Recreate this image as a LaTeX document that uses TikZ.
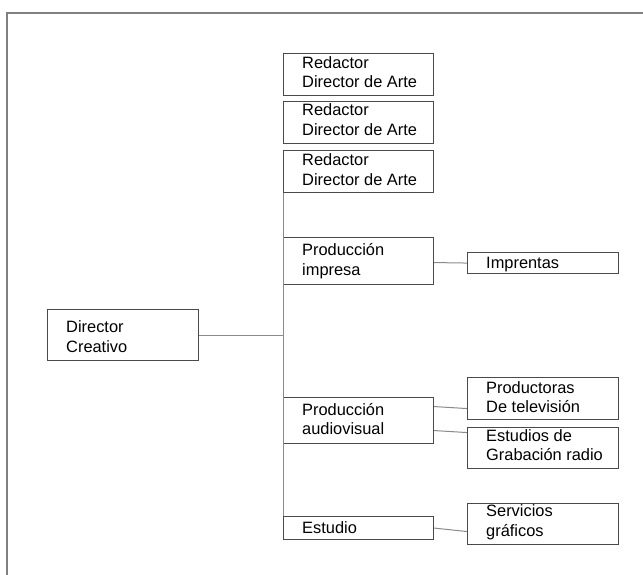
\documentclass[tikz,border=0pt]{standalone}
\usepackage{fontspec}
\setmainfont{Liberation Sans}
\definecolor{boxgray}{HTML}{4A4A4A}
\definecolor{linkgray}{HTML}{8A8A8A}
\definecolor{framegray}{HTML}{808080}
\begin{document}
\begin{tikzpicture}[x=1pt,y=-1pt,
  box/.style={draw=boxgray, line width=1.1pt, inner sep=0pt, anchor=north west},
  % text nodes are anchored at the baseline of their last line
  txt/.style={inner sep=0pt, anchor=base west, align=left,
              font=\fontsize{16.4}{19.2}\selectfont},
  link/.style={draw=linkgray, line width=1pt},
  frame/.style={draw=framegray, line width=2pt}]
\useasboundingbox (0,0) rectangle (643,574);

% outer frame
\draw[frame] (7,575) -- (7,12.5) -- (644,12.5);

% left box
\node[box, minimum width=151, minimum height=51] (dc) at (47,309) {};
\node[txt] (dct) at (66,352) {Director\\Creativo};

% middle column
\node[box, minimum width=150, minimum height=42] (r1) at (283,53) {};
\node[txt] (r1t) at (302,87.5) {Redactor\\Director de Arte};
\node[box, minimum width=150, minimum height=42] (r2) at (283,101) {};
\node[txt] (r2t) at (302,135) {Redactor\\Director de Arte};
\node[box, minimum width=150, minimum height=42] (r3) at (283,150) {};
\node[txt] (r3t) at (302,185) {Redactor\\Director de Arte};
\node[box, minimum width=150, minimum height=47] (pi) at (283,237) {};
\node[txt] (pit) at (302,275) {Producción\\impresa};
\node[box, minimum width=150, minimum height=46] (av) at (283,397) {};
\node[txt] (avt) at (302,434.5) {Producción\\audiovisual};
\node[box, minimum width=150, minimum height=23] (est) at (283,516) {};
\node[txt] (estt) at (302,533) {Estudio};

% right column
\node[box, minimum width=151, minimum height=21] (im) at (467,252) {};
\node[txt] (imt) at (486,268) {Imprentas};
\node[box, minimum width=151, minimum height=42] (pt) at (467,377) {};
\node[txt] (ptt) at (486,412.5) {Productoras\\De televisión};
\node[box, minimum width=151, minimum height=41] (eg) at (467,427) {};
\node[txt] (egt) at (486,460.5) {Estudios de\\Grabación radio};
\node[box, minimum width=151, minimum height=41] (sg) at (467,503) {};
\node[txt] (sgt) at (486,536) {Servicios\\gráficos};

% trunk and branches
\draw[link] (r3.south west) -- (est.north west);
\draw[link] (dc.east) -- (dc.east -| r3.south west);
\draw[link] ([yshift=-1.5pt]pi.east) -- (im.west);
\draw[link] ([yshift=14pt]av.east) -- ([yshift=-10pt]pt.west);
\draw[link] ([yshift=-10pt]av.east) -- ([yshift=15.5pt]eg.west);
\draw[link] (est.east) -- ([yshift=-7.5pt]sg.west);
\end{tikzpicture}
\end{document}
